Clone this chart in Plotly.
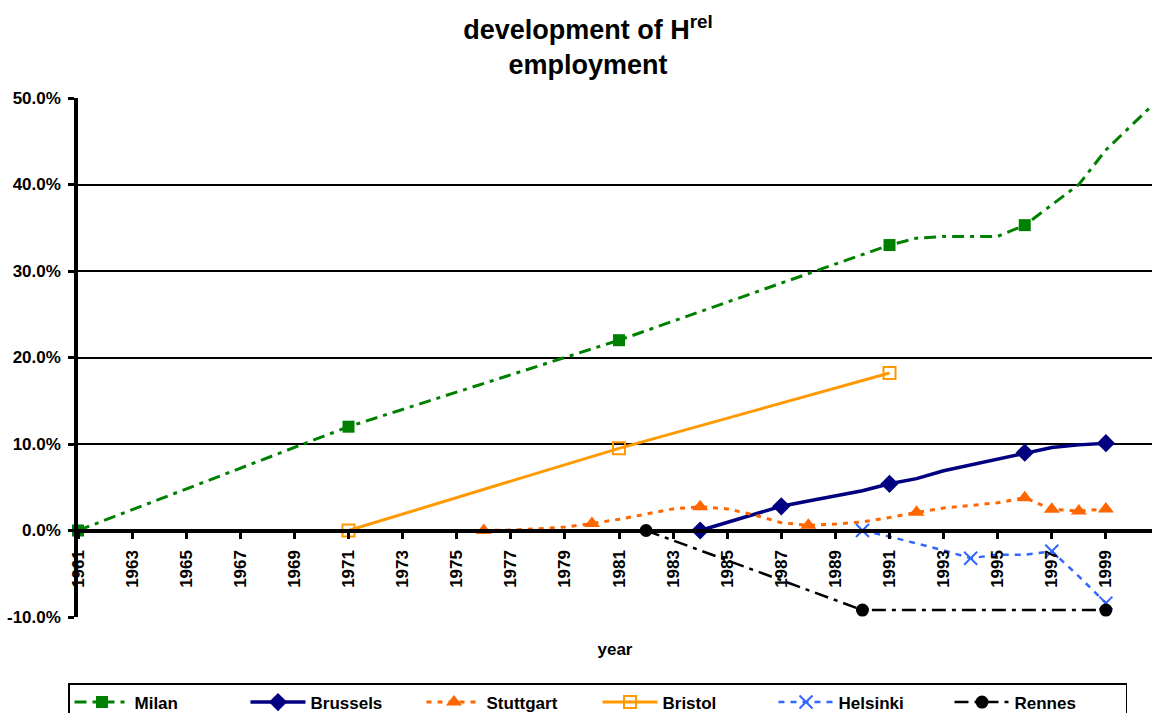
import plotly.graph_objects as go

# ---------------- data (values in percent) ----------------
milan_years = [1961, 1971, 1981, 1991, 1992, 1993, 1994, 1995, 1996, 1997, 1998, 1999, 2000, 2001]
milan_vals = [0.0, 12.0, 22.0, 33.0, 33.8, 34.0, 34.0, 34.0, 35.3, 37.6, 40.0, 44.0, 47.0, 50.0]
milan_marked = [1961, 1971, 1981, 1991, 1996]

brussels_years = [1984, 1985, 1986, 1987, 1988, 1989, 1990, 1991, 1992, 1993, 1994, 1995, 1996, 1997, 1998, 1999]
brussels_vals = [0.0, 0.9, 1.8, 2.8, 3.4, 4.0, 4.6, 5.4, 6.0, 6.9, 7.6, 8.3, 9.0, 9.6, 9.9, 10.1]
brussels_marked = [1984, 1987, 1991, 1996, 1999]

stuttgart_years = [1976, 1977, 1978, 1979, 1980, 1981, 1982, 1983, 1984, 1985, 1986, 1987,
                   1988, 1989, 1990, 1991, 1992, 1993, 1994, 1995, 1996, 1997, 1998, 1999]
stuttgart_vals = [0.0, 0.05, 0.2, 0.4, 0.8, 1.3, 1.9, 2.5, 2.75, 2.5, 1.8, 0.9,
                  0.6, 0.75, 1.0, 1.5, 2.1, 2.6, 2.9, 3.2, 3.8, 2.45, 2.25, 2.5]
stuttgart_marked = [1976, 1980, 1984, 1988, 1992, 1996, 1997, 1998, 1999]

bristol_years = [1971, 1981, 1991]
bristol_vals = [0.0, 9.5, 18.2]
bristol_marked = [1971, 1981, 1991]

helsinki_years = [1990, 1991, 1992, 1993, 1994, 1995, 1996, 1997, 1998, 1999]
helsinki_vals = [0.0, -0.7, -1.5, -2.3, -3.2, -2.8, -2.8, -2.4, -5.3, -8.4]
helsinki_marked = [1990, 1994, 1997, 1999]

rennes_years = [1982, 1990, 1999]
rennes_vals = [0.0, -9.2, -9.2]
rennes_marked = [1982, 1990, 1999]

x_tick_years = list(range(1961, 2000, 2))
y_ticks = [-10, 0, 10, 20, 30, 40, 50]

FONT = "Liberation Sans, Arial, sans-serif"
TRANSPARENT = "rgba(0,0,0,0)"


def colors_for(years, marked, color):
    return [color if y in marked else TRANSPARENT for y in years]


series = [
    dict(name="Milan", x=milan_years, y=milan_vals, marked=milan_marked, color="#008000",
         dash="12px,6px,4px,6px", width=3, symbol="square", size=12, open=False),
    dict(name="Brussels", x=brussels_years, y=brussels_vals, marked=brussels_marked, color="#000080",
         dash="solid", width=3.5, symbol="diamond", size=14, open=False),
    dict(name="Stuttgart", x=stuttgart_years, y=stuttgart_vals, marked=stuttgart_marked, color="#FF6600",
         dash="5px,6px", width=3, symbol="triangle-up", size=14, open=False),
    dict(name="Bristol", x=bristol_years, y=bristol_vals, marked=bristol_marked, color="#FF9900",
         dash="solid", width=3, symbol="square-open", size=12, open=True),
    dict(name="Helsinki", x=helsinki_years, y=helsinki_vals, marked=helsinki_marked, color="#3366FF",
         dash="6px,6px", width=2.5, symbol="x-thin-open", size=13, open=True),
    dict(name="Rennes", x=rennes_years, y=rennes_vals, marked=rennes_marked, color="#000000",
         dash="14px,6px,4px,6px", width=2.5, symbol="circle", size=13, open=False),
]

fig = go.Figure()
for s in series:
    cols = colors_for(s["x"], s["marked"], s["color"])
    if s["open"]:
        marker = dict(symbol=s["symbol"], size=s["size"], color=cols,
                      line=dict(color=cols, width=2))
    else:
        marker = dict(symbol=s["symbol"], size=s["size"], color=cols,
                      line=dict(color=cols, width=0))
    fig.add_trace(go.Scatter(
        x=s["x"], y=s["y"], name=s["name"], mode="lines+markers",
        line=dict(color=s["color"], width=s["width"], dash=s["dash"]),
        marker=marker, cliponaxis=False,
    ))

W, H = 1152, 713
L, R, T, B = 78, 0, 98, 96
plot_h = H - T - B

fig.update_layout(
    width=W, height=H,
    margin=dict(l=L, r=R, t=T, b=B, pad=0, autoexpand=False),
    paper_bgcolor="white", plot_bgcolor="white",
    font=dict(family=FONT, size=17, color="black", weight="bold"),
    title=dict(
        text="development of H<sup>rel</sup><br>employment",
        font=dict(family=FONT, size=27, color="black", weight="bold"),
        x=588 / W, xref="container", xanchor="center",
        y=1 - 39 / H, yref="container", yanchor="top",
    ),
    showlegend=True,
    legend=dict(
        orientation="h",
        xref="container", x=68 / W, xanchor="left",
        yref="container", y=1 - 683 / H, yanchor="top",
        bordercolor="black", borderwidth=1.5, bgcolor="white",
        font=dict(family=FONT, size=17, color="black", weight="bold"),
        itemwidth=55, entrywidth=106, entrywidthmode="pixels",
        traceorder="normal",
    ),
    xaxis=dict(
        range=[1961, 1961 + (W - L - R) / 27.05],
        tickmode="array", tickvals=x_tick_years, ticktext=[str(v) for v in x_tick_years],
        tickangle=-90,
        ticks="outside", ticklen=7, tickwidth=2.5, tickcolor="black",
        showline=True, linecolor="black", linewidth=3.5,
        showgrid=False, zeroline=False,
        anchor="free", position=(0 - (-10)) / 60,
        ticklabelstandoff=4,
        tickfont=dict(family=FONT, size=17, color="black", weight="bold"),
        title=dict(text="year", standoff=55,
                   font=dict(family=FONT, size=17, color="black", weight="bold")),
        automargin=False,
    ),
    yaxis=dict(
        range=[-10, 50],
        tickmode="array", tickvals=y_ticks,
        ticktext=[f"{v:.1f}%" for v in y_ticks],
        ticks="outside", ticklen=6, tickwidth=2.5, tickcolor="black",
        showline=True, linecolor="black", linewidth=3.5,
        showgrid=True, gridcolor="black", gridwidth=1.5,
        zeroline=False,
        ticklabelstandoff=4,
        tickfont=dict(family=FONT, size=17, color="black", weight="bold"),
        automargin=False,
    ),
)

fig.write_html("out.html")
